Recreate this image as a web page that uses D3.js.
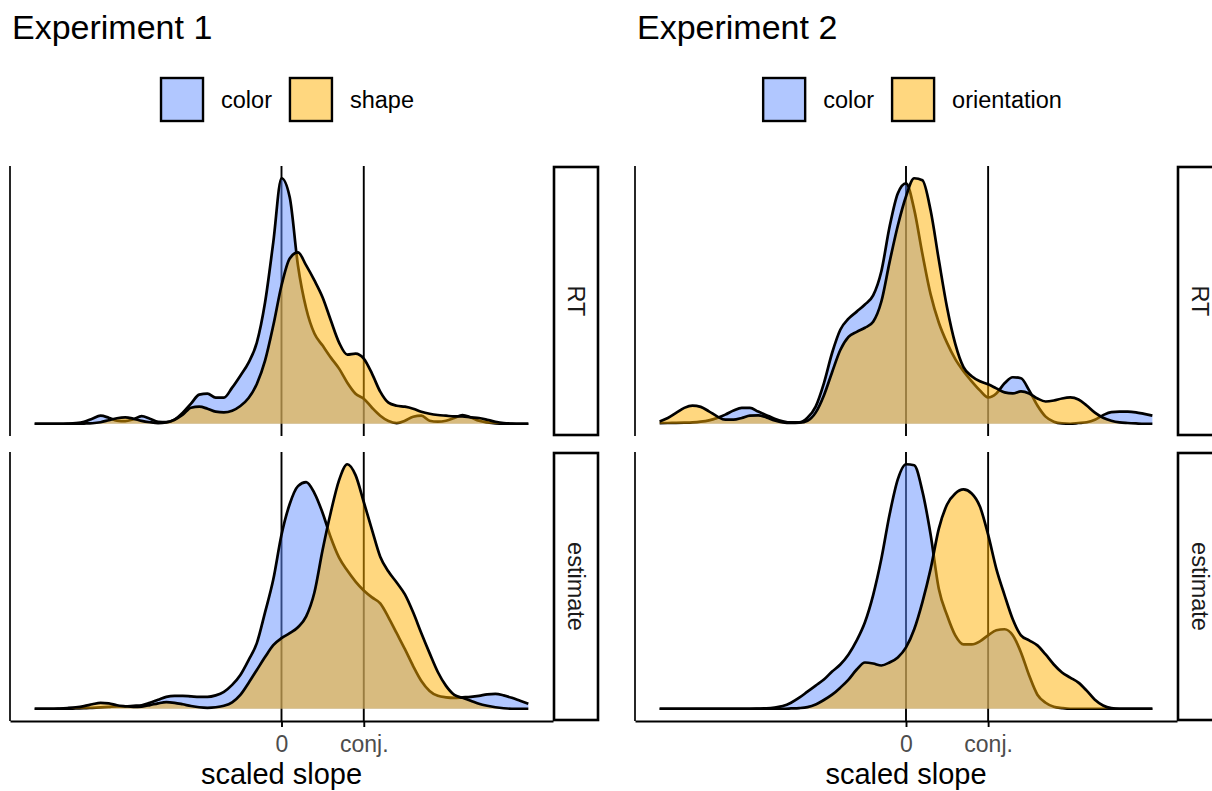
<!DOCTYPE html>
<html lang="en">
<head>
<meta charset="UTF-8">
<title>scaled slope densities</title>
<script src="https://d3js.org/d3.v7.min.js"></script>
<style>
  body { margin: 0; background: #fff; }
  text { font-family: "Liberation Sans", Arial, Helvetica, sans-serif; }
</style>
</head>
<body>
<div id="chart"></div>
<script>
// scaled slope values (conj. = 1) at which the density curves were read
var slopeGrid = d3.range(-30, 31).map(function(i){ return i / 10; });

// Experiment 1 densities (relative height, -3.0 .. 3.0 step 0.1)
var exp1RtColor = [0,0,0,0,0.2,0.7,2,5,8,6,
  3,2.5,4.5,7.5,5,2,1.5,4,11,20,
  29,30,26,26,36,48,61,81,121,181,
  245,226,158,115,90,78,66,55,41,30,
  25,16,8,2.7,0.7,3,7,8,3,2,
  3,5.7,8.7,6.3,3,1.3,0.3,0,0,0,0];
var exp1RtShape = [0,0,0,0,0,0,0.2,0.5,1.5,3.5,
  5.5,6.3,5,2.8,1.5,0.7,1.3,4,9,16,
  17,15,12,11.3,13,17.7,25.7,39.7,63,98,
  138,165,171,158,143,126,103,81,69,70,
  65,50,32,21,18,17,15,12,10,8.7,
  8,7.3,7.3,6.3,5.7,4,2,0.7,0.2,0,0];
var exp1EstColor = [0,0,0,0,0,0.3,0.5,1,1.5,2,
  2.5,2.5,3,3.5,6,9,12,13,13,12.5,
  12,12,13.5,17,24,34,49,66,97,130,
  175,206,224,228,217,197,172,152,139,128,
  119,112,106,92,76,60,43,28,18,13,
  11.5,11,11.5,12,13,14.5,15,13.5,11,8,5];
var exp1EstShape = [0,0,0,0.3,0.8,1.5,2.7,4.5,6,5.5,
  3.5,2.5,1.8,2.2,3.7,5.5,6.7,6,4.5,2.8,
  1.5,1,1.5,3,6.5,14,26,39,52,64,
  71,76,82,93,117,160,198,230,246,235,
  208,180,153,138,127,115,97,76,56,37,
  23,14,11,8,5,3,1.5,0.5,0,0,0];

// Experiment 2 densities
var exp2RtColor = [0.5,0.7,0.8,1,1.3,2,3.3,5.7,9,13,
  15.7,15.7,12,8.5,5,2.5,1.3,1.3,6,17,
  40,70,93,104,111,118,127,151,195,228,
  238,212,168,128,100,80,64,52,42,33,
  26,30,40,46,45,33,18,7,2,0.3,
  0,0.7,1.5,4,8.5,11.5,12,12,11.3,9.7,8];
var exp2RtOrient = [2.3,5.7,10.7,15.7,18,16.7,12.3,7.3,4,4,
  5.7,8,8.3,6.3,3.3,1.3,0.7,1,3,11,
  28,51,73,86,91,95,101,121,160,196,
  225,243,241,211,162,115,79,56,47,42,
  39,35,31,30,32,30,25,22,23,25,
  26,24,18,11,6,3,1.3,0.7,0.3,0,0];
var exp2EstColor = [0,0,0,0,0,0,0,0,0,0,
  0,0,0.2,0.5,1.3,2.7,6,11,17,23,
  29,37,44,54,68,86,113,149,193,228,
  243,242,216,173,119,93,73,64,64,67,
  73,78,79,73,56,33,14,6,2,0.7,
  0,0,0,0,0,0,0,0,0,0,0];
var exp2EstOrient = [0,0,0,0,0,0,0,0,0,0,
  0,0,0,0,0,0,0.3,0.7,1.7,4.3,
  8.7,14,21,29,39,46,45,43,46,51,
  61,79,106,139,179,203,214,218,214,201,
  173,139,113,89,73,68,63,54,44,36,
  31,26,18,9,3.3,0.7,0,0,0,0,0];

var tickValues = [0, 1];
var tickLabels = ["0", "conj."];
var facetLabels = ["RT", "estimate"];
var exp1Groups = ["color", "shape"];
var exp2Groups = ["color", "orientation"];
var groupColors = ["#648FFF", "#FFB000"];

var width = 1212, height = 791;
var svg = d3.select("#chart").append("svg")
    .attr("width", width)
    .attr("height", height);

var experiments = [
  {title: "Experiment 1", left: 10, right: 553, groups: exp1Groups,
   series: [[exp1RtColor, exp1RtShape], [exp1EstColor, exp1EstShape]]},
  {title: "Experiment 2", left: 635, right: 1177, groups: exp2Groups,
   series: [[exp2RtColor, exp2RtOrient], [exp2EstColor, exp2EstOrient]]}
];
var rows = [{top: 166, bottom: 436}, {top: 452, bottom: 721}];
var stripWidth = 45;

experiments.forEach(function(e) {
    var g = svg.append("g");
    var ext = d3.extent(slopeGrid), pad = (ext[1] - ext[0]) * 0.05;
    var x = d3.scaleLinear().domain([ext[0] - pad, ext[1] + pad]).range([e.left, e.right]);

    g.append("text")
        .attr("x", e.left + 2)
        .attr("y", 39)
        .attr("font-size", "34px")
        .attr("fill", "#000")
        .text(e.title);

    // legend, centred over the panel
    var leg = g.append("g");
    var cursor = 0;
    e.groups.forEach(function(name, i) {
        leg.append("rect")
            .attr("x", cursor + 1)
            .attr("y", 78)
            .attr("width", 42)
            .attr("height", 43)
            .attr("fill", groupColors[i])
            .attr("fill-opacity", 0.5)
            .attr("stroke", "#000")
            .attr("stroke-width", 2.4);
        var t = leg.append("text")
            .attr("x", cursor + 61)
            .attr("y", 99.5)
            .attr("dy", "0.35em")
            .attr("font-size", "23.5px")
            .attr("fill", "#000")
            .text(name);
        cursor += 61 + t.node().getComputedTextLength() + 17;
    });
    cursor -= 17;
    leg.attr("transform", "translate(" + (e.left + 277 - cursor / 2) + ",0)");

    rows.forEach(function(r, ri) {
        var pair = e.series[ri];
        var maxY = d3.max(pair, function(s){ return d3.max(s); });
        var y = d3.scaleLinear().domain([-0.05 * maxY, 1.05 * maxY]).range([r.bottom, r.top]);

        // reference lines at 0 and conj.
        g.selectAll(null)
            .data(tickValues)
            .enter()
            .append("line")
            .attr("x1", function(d){ return x(d); })
            .attr("x2", function(d){ return x(d); })
            .attr("y1", r.top)
            .attr("y2", r.bottom)
            .attr("stroke", "#000")
            .attr("stroke-width", 1.9);

        var area = d3.area()
            .x(function(d, i){ return x(slopeGrid[i]); })
            .y0(y(0))
            .y1(function(d){ return y(d); })
            .curve(d3.curveMonotoneX);
        var line = d3.line()
            .x(function(d, i){ return x(slopeGrid[i]); })
            .y(function(d){ return y(d); })
            .curve(d3.curveMonotoneX);

        pair.forEach(function(s, si) {
            g.append("path")
                .attr("d", area(s))
                .attr("fill", groupColors[si])
                .attr("fill-opacity", 0.5)
                .attr("stroke", "none");
            g.append("path")
                .attr("d", line(s))
                .attr("fill", "none")
                .attr("stroke", "#000")
                .attr("stroke-width", 2.7)
                .attr("stroke-linejoin", "round");
        });

        // left axis line
        g.append("line")
            .attr("x1", e.left).attr("x2", e.left)
            .attr("y1", r.top).attr("y2", r.bottom)
            .attr("stroke", "#000")
            .attr("stroke-width", 1.7);

        // facet strip
        g.append("rect")
            .attr("x", e.right + 1)
            .attr("y", r.top + 1)
            .attr("width", stripWidth - 1)
            .attr("height", r.bottom - r.top - 2)
            .attr("fill", "#fff")
            .attr("stroke", "#000")
            .attr("stroke-width", 2.6);
        var cx = e.right + stripWidth / 2 + 1, cy = (r.top + r.bottom) / 2;
        g.append("text")
            .attr("transform", "translate(" + cx + "," + cy + ") rotate(90)")
            .attr("text-anchor", "middle")
            .attr("dy", "0.35em")
            .attr("font-size", "23.5px")
            .attr("fill", "#1a1a1a")
            .text(facetLabels[ri]);
    });

    // x axis on the bottom facet
    var bottom = rows[rows.length - 1].bottom;
    var axis = g.append("g")
        .attr("transform", "translate(0," + bottom + ")")
        .call(d3.axisBottom(x)
            .tickValues(tickValues)
            .tickFormat(function(d, i){ return tickLabels[i]; })
            .tickSize(6)
            .tickSizeOuter(0)
            .tickPadding(9));
    axis.select(".domain").attr("stroke", "#000").attr("stroke-width", 1.8);
    axis.selectAll(".tick line").attr("stroke", "#000").attr("stroke-width", 1.9);
    axis.selectAll(".tick text")
        .attr("font-size", "23px")
        .attr("font-family", "'Liberation Sans', Arial, Helvetica, sans-serif")
        .attr("fill", "#4d4d4d");

    g.append("text")
        .attr("x", x(0))
        .attr("y", 784)
        .attr("text-anchor", "middle")
        .attr("font-size", "29px")
        .attr("fill", "#000")
        .text("scaled slope");
});
</script>
</body>
</html>
